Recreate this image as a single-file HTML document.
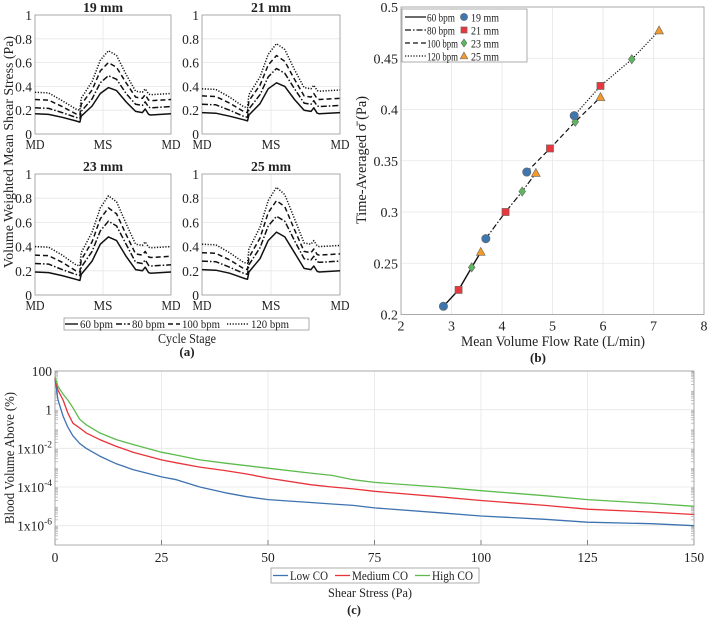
<!DOCTYPE html>
<html><head><meta charset="utf-8"><style>
html,body{margin:0;padding:0;background:#fff}
svg{display:block}
svg text{font-family:"Liberation Serif","Times New Roman",Times,serif}
</style></head><body>
<svg id="fig" width="708" height="618" viewBox="0 0 708 618" font-family="Liberation Serif, Times New Roman, serif"></svg>
<script>
// ---------- Panel (a) data ----------
const aTimes = [0,0.1,0.2,0.3,0.33,0.34,0.42,0.48,0.54,0.60,0.67,0.74,0.79,0.81,0.835,0.85,1.0];
const aTitles = ["19 mm","21 mm","23 mm","25 mm"];
const aBpm = ["60 bpm","80 bpm","100 bpm","120 bpm"];
const a19_60  = [.17,.165,.14,.11,.10,.15,.235,.34,.39,.365,.27,.19,.18,.21,.165,.16,.17];
const a19_80  = [.22,.215,.18,.14,.13,.19,.295,.43,.49,.46,.34,.25,.24,.27,.225,.22,.23];
const a19_100 = [.29,.285,.23,.17,.16,.25,.37,.53,.60,.56,.43,.31,.30,.33,.285,.28,.29];
const a19_120 = [.35,.345,.28,.21,.20,.30,.44,.62,.70,.66,.50,.36,.35,.38,.335,.33,.34];
const a21_60  = [.18,.175,.15,.12,.11,.16,.255,.38,.43,.40,.29,.20,.19,.22,.175,.17,.18];
const a21_80  = [.25,.245,.20,.15,.14,.21,.33,.48,.55,.51,.38,.26,.25,.28,.235,.23,.24];
const a21_100 = [.32,.315,.26,.19,.18,.28,.41,.58,.66,.61,.46,.32,.31,.34,.295,.29,.30];
const a21_120 = [.38,.375,.31,.23,.22,.33,.48,.67,.76,.71,.54,.39,.38,.41,.365,.36,.37];
const a23_60  = [.19,.185,.16,.13,.12,.17,.28,.42,.48,.45,.32,.21,.20,.23,.185,.18,.19];
const a23_80  = [.26,.255,.21,.17,.16,.23,.36,.53,.61,.57,.42,.27,.26,.29,.245,.24,.25];
const a23_100 = [.33,.325,.27,.20,.19,.29,.44,.63,.72,.67,.50,.34,.33,.36,.315,.31,.32];
const a23_120 = [.40,.395,.33,.25,.24,.35,.52,.72,.82,.77,.59,.42,.41,.44,.395,.39,.40];
const a25_60  = [.21,.205,.18,.14,.13,.19,.30,.45,.52,.48,.35,.22,.21,.24,.195,.19,.20];
const a25_80  = [.28,.275,.23,.18,.17,.25,.39,.57,.65,.61,.45,.30,.29,.32,.275,.27,.28];
const a25_100 = [.35,.345,.29,.22,.21,.31,.47,.68,.78,.73,.54,.36,.35,.38,.335,.33,.34];
const a25_120 = [.42,.415,.35,.27,.26,.38,.56,.78,.89,.83,.63,.43,.42,.45,.405,.40,.41];
const aYTicks = [0,0.2,0.4,0.6,0.8,1];
const aYTickLabels = ["0","0.2","0.4","0.6","0.8","1"];
const aXTickLabels = ["MD","MS","MD"];

// ---------- Panel (b) data ----------
const bSizes = ["19 mm","21 mm","23 mm","25 mm"];
const bX60  = [2.84,3.14,3.40,3.58];
const bY60  = [0.208,0.224,0.246,0.261];
const bX80  = [3.68,4.07,4.40,4.67];
const bY80  = [0.274,0.300,0.320,0.338];
const bX100 = [4.49,4.95,5.45,5.95];
const bY100 = [0.339,0.362,0.388,0.412];
const bX120 = [5.43,5.95,6.57,7.11];
const bY120 = [0.394,0.423,0.449,0.477];
const bXTicks = [2,3,4,5,6,7,8];
const bYTicks = [0.2,0.25,0.3,0.35,0.4,0.45,0.5];
const bYTickLabels = ["0.2","0.25","0.3","0.35","0.4","0.45","0.5"];

// ---------- Panel (c) data ----------
const cShear = [0,0.7,1.9,3,4.2,5.8,7.3,10.5,14.4,18.3,25,28.5,34,40,45,50,60,65,70,75,90,100,115,125,140,150];
const cLowLog = [1.6,0.5,-0.34,-0.9,-1.35,-1.75,-2.0,-2.4,-2.8,-3.1,-3.48,-3.62,-4.0,-4.3,-4.5,-4.65,-4.8,-4.88,-4.95,-5.08,-5.33,-5.5,-5.67,-5.82,-5.9,-6.0];
const cMedLog = [1.6,1.0,0.5,-0.17,-0.7,-0.95,-1.2,-1.55,-1.9,-2.2,-2.6,-2.75,-2.97,-3.15,-3.33,-3.54,-3.88,-4.0,-4.1,-4.22,-4.5,-4.7,-4.95,-5.15,-5.3,-5.42];
const cHighLog = [1.7,1.2,0.8,0.5,0.1,-0.5,-0.78,-1.2,-1.55,-1.8,-2.2,-2.35,-2.6,-2.77,-2.9,-3.03,-3.28,-3.4,-3.62,-3.76,-4.0,-4.19,-4.45,-4.65,-4.85,-5.0];
const cSeriesNames = ["Low CO","Medium CO","High CO"];
const cXTicks = [0,25,50,75,100,125,150];
const cYTickLogs = [2,0,-2,-4,-6];
const cYTickBase = ["100","1","1x10","1x10","1x10"];
const cYTickExp = ["","","-2","-4","-6"];

const NS="http://www.w3.org/2000/svg";
const svg=document.getElementById('fig');
const FONT='"Liberation Serif","Times New Roman",Times,serif';
function mk(tag,attrs,parent){const e=document.createElementNS(NS,tag);for(const k in attrs)e.setAttribute(k,attrs[k]);(parent||svg).appendChild(e);return e;}
function txt(x,y,s,size,anchor,parent,extra,len){const a=Object.assign({x:x,y:y,'font-size':size,'text-anchor':anchor||'middle',fill:'#222','font-family':FONT},extra||{});if(len){a.textLength=len;a.lengthAdjust='spacingAndGlyphs';}const t=mk('text',a,parent);t.textContent=s;return t;}
const dashes=["none","6,2,1.5,2","5,3","1.2,1.6"];

// ===== Panel (a) =====
const aBoxes=[{l:35,r:171,t:15,b:134},{l:202,r:340,t:15,b:134},{l:35,r:171,t:174,b:295},{l:202,r:340,t:174,b:295}];
const aData=[[a19_60,a19_80,a19_100,a19_120],[a21_60,a21_80,a21_100,a21_120],[a23_60,a23_80,a23_100,a23_120],[a25_60,a25_80,a25_100,a25_120]];
aBoxes.forEach((B,i)=>{
  const g=mk('g',{});
  
  
  const xs=t=>B.l+t*(B.r-B.l), ys=v=>B.b-v*(B.b-B.t);
  aYTicks.forEach((v,k)=>{
    mk('line',{x1:B.l,x2:B.r,y1:ys(v),y2:ys(v),stroke:'#e6e6e6','stroke-width':0.8},g);
    const tl=txt(B.l-3,ys(v)+5,aYTickLabels[k],13.5,'end',g);
    
    
  });
  [0,0.5,1].forEach((t,k)=>{
    mk('line',{x1:xs(t),x2:xs(t),y1:B.t,y2:B.b,stroke:'#e6e6e6','stroke-width':0.8},g);
    const tl=txt(xs(t),B.b+15,aXTickLabels[k],13.5,'middle',g,null,19);
    
    
  });
  mk('rect',{x:B.l,y:B.t,width:B.r-B.l,height:B.b-B.t,fill:'none',stroke:'#999','stroke-width':0.8},g);
  aData[i].forEach((arr,s)=>{
    const d=arr.map((v,k)=>(k?'L':'M')+xs(aTimes[k]).toFixed(1)+' '+ys(v).toFixed(1)).join(' ');
    const p=mk('path',{d:d,fill:'none',stroke:'#111','stroke-width':1.5,'stroke-dasharray':dashes[s],'stroke-linejoin':'round'},g);
    
    
  });
  const tt=txt((B.l+B.r)/2,B.t-3,aTitles[i],14,'middle',g,{'font-weight':'bold'},40);
  
  
});
const aYL=txt(0,0,"Volume Weighted Mean Shear Stress (Pa)",14,'middle',null,{transform:'translate(13,152) rotate(-90)'},232);


// legend a
const aLeg=mk('g',{});


mk('rect',{x:64,y:318,width:245,height:12,fill:'#fff',stroke:'#999','stroke-width':0.8},aLeg);
[[65,78,"60 bpm",33],[116,130,"80 bpm",33],[168,180,"100 bpm",38],[227,249,"120 bpm",38]].forEach((e,s)=>{
  mk('line',{x1:e[0],x2:e[1],y1:324,y2:324,stroke:'#111','stroke-width':1.4,'stroke-dasharray':dashes[s]},aLeg);
  const t=txt(e[1]+2,328,e[2],11.5,'start',aLeg,null,e[3]);
  
  
});
const aXL=txt(187,343,"Cycle Stage",13.5,'middle',null,null,58);


const aCap=txt(187,356,"(a)",13,'middle',null,{'font-weight':'bold'});



// ===== Panel (b) =====
const BL=401,BR=704,BT=7,BB=314.5;
const bx=v=>BL+(v-2)/6*(BR-BL), by=v=>BB-(v-0.2)/0.3*(BB-BT);
const gb=mk('g',{});


bXTicks.forEach(v=>{
  mk('line',{x1:bx(v),x2:bx(v),y1:BT,y2:BB,stroke:'#e6e6e6','stroke-width':0.8},gb);
  const t=txt(bx(v),BB+16,String(v),14,'middle',gb);
  
  
});
bYTicks.forEach((v,k)=>{
  mk('line',{x1:BL,x2:BR,y1:by(v),y2:by(v),stroke:'#e6e6e6','stroke-width':0.8},gb);
  const t=txt(BL-3,by(v)+5,bYTickLabels[k],14,'end',gb);
  
  
});
mk('rect',{x:BL,y:BT,width:BR-BL,height:BB-BT,fill:'none',stroke:'#999','stroke-width':0.8},gb);
const bXs=[bX60,bX80,bX100,bX120], bYs=[bY60,bY80,bY100,bY120];
const mColors=["#3f76ad","#e8383d","#5cb85c","#f39a2b"];
function marker(k,x,y,parent,r){
  r=r||4.2;let e;
  if(k===0)e=mk('circle',{cx:x,cy:y,r:r},parent);
  else if(k===1)e=mk('rect',{x:x-r*0.85,y:y-r*0.85,width:r*1.7,height:r*1.7},parent);
  else if(k===2)e=mk('polygon',{points:`${x},${y-r*1.1} ${x+r*0.8},${y} ${x},${y+r*1.1} ${x-r*0.8},${y}`},parent);
  else e=mk('polygon',{points:`${x},${y-r*1.1} ${x+r*1.05},${y+r*0.8} ${x-r*1.05},${y+r*0.8}`},parent);
  e.setAttribute('fill',mColors[k]);e.setAttribute('stroke','#666');e.setAttribute('stroke-width',0.6);
  return e;
}
bXs.forEach((xa,s)=>{
  const d=xa.map((v,k)=>(k?'L':'M')+bx(v).toFixed(1)+' '+by(bYs[s][k]).toFixed(1)).join(' ');
  const p=mk('path',{d:d,fill:'none',stroke:'#111','stroke-width':s==0?1.4:1.2,'stroke-dasharray':dashes[s]},gb);
  
  
});
bXs.forEach((xa,s)=>{
  xa.forEach((v,k)=>{
    const m=marker(k,bx(v),by(bYs[s][k]),gb);
    
    
  });
});
const bLeg=mk('g',{});


mk('rect',{x:402,y:9,width:125,height:53,fill:'#fff',stroke:'#999','stroke-width':0.8},bLeg);
aBpm.forEach((n,s)=>{
  const y=17+s*13;
  mk('line',{x1:405,x2:426,y1:y,y2:y,stroke:'#111','stroke-width':1.3,'stroke-dasharray':dashes[s]},bLeg);
  const t=txt(427,y+4.5,n,12,'start',bLeg,null,s<2?28:31);
  
  
  marker(s,464,y,bLeg,3.6);
  const t2=txt(471,y+4.5,bSizes[s],12,'start',bLeg,null,28);
  
  
});
const bXL=txt(553,346,"Mean Volume Flow Rate (L/min)",14.5,'middle',null,null,184);


const bYL=txt(0,0,"Time-Averaged σ̄ (Pa)",14.5,'middle',null,{transform:'translate(366,160) rotate(-90)'},128);


const bCap=txt(538,362,"(b)",13,'middle',null,{'font-weight':'bold'});



// ===== Panel (c) =====
const CL=55,CR=694,CT=371,CB=545;
const cx=v=>CL+v/150*(CR-CL), cy=l=>CB-(l+7)*(CB-CT)/9;
const gc=mk('g',{});


cXTicks.forEach(v=>{
  mk('line',{x1:cx(v),x2:cx(v),y1:CT,y2:CB,stroke:'#e6e6e6','stroke-width':0.8},gc);
  mk('line',{x1:cx(v),x2:cx(v),y1:CB,y2:CB-5,stroke:'#666','stroke-width':0.8},gc);
  const t=txt(cx(v),CB+17,String(v),13.5,'middle',gc);
  
  
});
for(let n=-7;n<2;n++){for(let k=2;k<10;k++){const y=cy(n+Math.log10(k));
  mk('line',{x1:CL,x2:CL+3,y1:y,y2:y,stroke:'#aaa','stroke-width':0.7},gc);
  mk('line',{x1:CR-3,x2:CR,y1:y,y2:y,stroke:'#aaa','stroke-width':0.7},gc);}}
cYTickLogs.forEach((l,k)=>{
  mk('line',{x1:CL,x2:CR,y1:cy(l),y2:cy(l),stroke:'#e6e6e6','stroke-width':0.8},gc);
  const t=mk('text',{x:CL-3,y:cy(l)+5,'font-size':13.5,'text-anchor':'end',fill:'#222','font-family':FONT},gc);
  
  
  const s1=mk('tspan',{},t);s1.textContent=cYTickBase[k];
  if(cYTickExp[k]){const s2=mk('tspan',{dy:-6,'font-size':9.5},t);s2.textContent=cYTickExp[k];}
});
mk('rect',{x:CL,y:CT,width:CR-CL,height:CB-CT,fill:'none',stroke:'#999','stroke-width':0.8},gc);
const cColors=["#3e72b0","#e8333a","#5dbb4e"];
[cLowLog,cMedLog,cHighLog].forEach((arr,s)=>{
  const d=arr.map((l,k)=>(k?'L':'M')+cx(cShear[k]).toFixed(1)+' '+cy(Math.min(l,2)).toFixed(1)).join(' ');
  const p=mk('path',{d:d,fill:'none',stroke:cColors[s],'stroke-width':1.3,'stroke-linejoin':'round'},gc);
  
  
});
const cLeg=mk('g',{});


mk('rect',{x:271,y:568,width:208,height:15,fill:'#fff',stroke:'#999','stroke-width':0.8},cLeg);
[[273,"Low CO",38],[335,"Medium CO",56],[415,"High CO",41]].forEach((e,s)=>{
  mk('line',{x1:e[0],x2:e[0]+15,y1:575.5,y2:575.5,stroke:cColors[s],'stroke-width':1.3},cLeg);
  const t=txt(e[0]+17,580,e[1],12.5,'start',cLeg,null,e[2]);
  
  
});
const cXL=txt(370,597,"Shear Stress (Pa)",13,'middle',null,null,84);


const cYL=txt(0,0,"Blood Volume Above (%)",14,'middle',null,{transform:'translate(14,458) rotate(-90)'},132);


const cCap=txt(354,614,"(c)",12.5,'middle',null,{'font-weight':'bold'});


</script>
</body></html>
